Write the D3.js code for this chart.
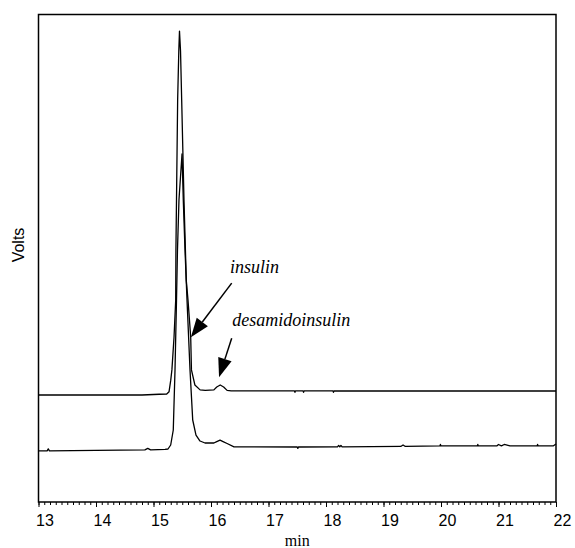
<!DOCTYPE html>
<html>
<head>
<meta charset="utf-8">
<script src="https://cdn.jsdelivr.net/npm/d3@7"></script>
<style>
  body { margin: 0; background: #fff; }
  svg { display: block; }
  .trace { fill: none; stroke: #000; stroke-width: 1.3; stroke-linejoin: round; }
  .tick-label { font-family: "Liberation Sans", Arial, sans-serif; font-size: 16px; }
  .note { font-family: "Liberation Serif", "Times New Roman", serif; font-style: italic; font-size: 18px; }
</style>
</head>
<body>
<div id="chart-area"><svg></svg></div>
<script>
// retention time (min) and detector signal (arbitrary volts) for both runs
const upperTimes = [13.00, 13.10, 14.00, 14.80, 15.10, 15.23, 15.27, 15.30, 15.32, 15.357,
  15.386, 15.39, 15.40, 15.42, 15.44, 15.452, 15.47, 15.49, 15.53, 15.57,
  15.60, 15.647, 15.66, 15.72, 15.81, 15.90, 16.05, 16.10, 16.16, 16.22,
  16.28, 16.35, 17.00, 17.45, 17.46, 17.47, 17.60, 17.61, 17.62, 18.12,
  18.13, 18.14, 19.0, 20.0, 21.0, 22.0];
const upperVolts = [21.95, 21.95, 21.95, 21.95, 22.1, 22.15, 22.6, 25.0, 27.1, 33.8,
  41.4, 51.7, 62.0, 82.5, 92.5, 96.6, 92.5, 82.5, 62.0, 45.5,
  41.4, 33.85, 27.1, 24.0, 23.0, 22.9, 23.0, 23.6, 24.0, 23.6,
  22.9, 22.8, 22.8, 22.8, 22.5, 22.8, 22.8, 22.5, 22.8, 22.8,
  22.5, 22.8, 22.77, 22.77, 22.77, 22.77];

const lowerTimes = [13.00, 13.15, 13.17, 13.19, 14.00, 14.85, 14.90, 14.95, 15.20, 15.252,
  15.299, 15.344, 15.374, 15.40, 15.417, 15.443, 15.496, 15.518, 15.548, 15.583,
  15.635, 15.682, 15.739, 15.809, 15.896, 16.05, 16.10, 16.157, 16.21, 16.28,
  16.40, 17.50, 17.51, 17.52, 18.20, 18.22, 18.24, 18.26, 18.28, 19.30,
  19.34, 19.38, 19.98, 19.99, 20.00, 20.63, 20.64, 20.65, 20.97, 21.00,
  21.05, 21.10, 21.20, 21.67, 21.68, 21.69, 21.95, 22.00];
const lowerVolts = [10.5, 10.5, 10.9, 10.5, 10.6, 10.7, 11.0, 10.7, 10.8, 10.87,
  11.69, 14.77, 27.08, 41.4, 51.7, 61.95, 71.38, 61.95, 51.7, 41.4,
  27.08, 16.82, 13.74, 12.51, 12.10, 12.1, 12.4, 12.7, 12.4, 12.0,
  11.3, 11.28, 11.0, 11.28, 11.3, 11.6, 11.3, 11.6, 11.3, 11.4,
  11.7, 11.4, 11.5, 11.8, 11.5, 11.5, 11.8, 11.5, 11.5, 11.8,
  11.5, 11.8, 11.5, 11.5, 11.8, 11.5, 11.5, 11.9];

const xTicks = [13, 14, 15, 16, 17, 18, 19, 20, 21, 22];

// annotations: label, label anchor (time, volts), arrow start and tip (time, volts)
const notes = [
  { text: "insulin", at: [16.33, 47.0], from: [16.36, 44.9], to: [15.65, 33.8] },
  { text: "desamidoinsulin", at: [16.37, 36.1], from: [16.36, 33.6], to: [16.14, 25.6] }
];

const chartSize = { width: 575, height: 548 };
const margin = { left: 38.5, right: 19, top: 14.5, bottom: 46 };
const width = chartSize.width - margin.left - margin.right;
const height = chartSize.height - margin.top - margin.bottom;

const svg = d3.select('#chart-area svg')
  .attr('width', chartSize.width)
  .attr('height', chartSize.height);

const g = svg.append('g')
  .attr('transform', `translate(${margin.left},${margin.top})`);

const x = d3.scaleLinear().domain([13, 22]).range([0, width]);
const y = d3.scaleLinear().domain([0, 100]).range([height, 0]);

// minor ticks every 0.1 min
g.append('g')
  .attr('transform', `translate(0,${height})`)
  .call(d3.axisBottom(x).tickValues(d3.range(13, 22.001, 0.1)).tickSize(3).tickFormat(''))
  .call(a => a.select('.domain').remove())
  .call(a => a.selectAll('line').attr('stroke-width', 1));

const xAxis = g.append('g')
  .attr('transform', `translate(0,${height})`)
  .call(d3.axisBottom(x).tickValues(xTicks).tickSize(5).tickFormat(d3.format('d')).tickPadding(5));
xAxis.select('.domain').remove();
xAxis.selectAll('text')
  .attr('class', 'tick-label')
  .attr('dx', 6)
  .attr('dy', '0.9em')
  .attr('font-size', null)
  .attr('font-family', null);

// frame
g.append('rect')
  .attr('width', width)
  .attr('height', height)
  .attr('fill', 'none')
  .attr('stroke', '#000')
  .attr('stroke-width', 1.5);

const line = d3.line().x(d => x(d[0])).y(d => y(d[1]));

[[upperTimes, upperVolts], [lowerTimes, lowerVolts]].forEach(([ts, vs]) => {
  g.append('path')
    .attr('class', 'trace')
    .attr('d', line(ts.map((t, i) => [t, vs[i]])));
});

// annotations with filled arrowheads
notes.forEach(n => {
  g.append('text')
    .attr('class', 'note')
    .attr('x', x(n.at[0]))
    .attr('y', y(n.at[1]))
    .text(n.text);

  const x1 = x(n.from[0]), y1 = y(n.from[1]);
  const x2 = x(n.to[0]), y2 = y(n.to[1]);
  const ang = Math.atan2(y2 - y1, x2 - x1);
  const headLen = 19, headHalf = 7;
  const bx = x2 - headLen * Math.cos(ang), by = y2 - headLen * Math.sin(ang);
  g.append('line')
    .attr('x1', x1).attr('y1', y1)
    .attr('x2', bx).attr('y2', by)
    .attr('stroke', '#000')
    .attr('stroke-width', 1.5);
  const px = -Math.sin(ang) * headHalf, py = Math.cos(ang) * headHalf;
  g.append('polygon')
    .attr('points', [[x2, y2], [bx + px, by + py], [bx - px, by - py]].map(p => p.join(',')).join(' '))
    .attr('fill', '#000');
});

svg.append('text')
  .attr('x', margin.left + width / 2)
  .attr('y', 546)
  .attr('text-anchor', 'middle')
  .attr('font-family', '"Liberation Serif", "Times New Roman", serif')
  .attr('font-size', 16)
  .text('min');

svg.append('text')
  .attr('transform', 'translate(24,245) rotate(-90)')
  .attr('text-anchor', 'middle')
  .attr('font-family', '"Liberation Sans", Arial, sans-serif')
  .attr('font-size', 16)
  .text('Volts');
</script>
</body>
</html>
